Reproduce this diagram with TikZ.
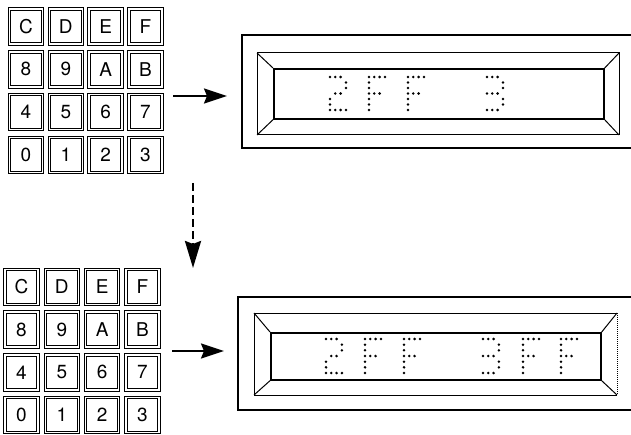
\documentclass[tikz,border=0pt]{standalone}
\usepackage{fontspec}
\setmainfont{TeX Gyre Heros}
\usetikzlibrary{arrows.meta}
\tikzset{
  key/.style={draw=black, double=white, double distance=1.6pt, line width=1pt,
    minimum width=33pt, minimum height=35pt, inner sep=0pt, anchor=north west,
    font=\fontsize{19}{19}\selectfont},
  frame/.style={draw=black, line width=1.3pt},
  bezel/.style={draw=black, line width=1pt},
  window/.style={draw=black, line width=1.7pt, inner sep=0pt, anchor=north west},
  arr/.style={line width=2.2pt, -{Stealth[length=23pt, width=15pt, inset=3pt]}},
  darr/.style={line width=2.6pt, dash pattern=on 8pt off 4pt, -{Stealth[length=27pt, width=16pt, inset=3pt]}},
  dotm/.style={fill=black}
}
\def\glyphTwo{0/0,1/0,2/0,3/1,3/2,1/3,2/3,0/4,0/5,0/6,1/6,2/6,3/6}
\def\glyphF{0/0,1/0,2/0,3/0,0/1,0/2,0/3,1/3,2/3,0/4,0/5,0/6}
\def\glyphThree{0/0,1/0,2/0,3/1,3/2,0/3,1/3,2/3,3/4,3/5,0/6,1/6,2/6}
\newcommand\dotglyph[4]{% x, y, glyph, row step
  \foreach \cc/\rr in #3 {\fill[dotm] ({#1+\cc*5.3},{#2+\rr*#4}) circle (1.4);}}
\begin{document}
\begin{tikzpicture}[x=1pt,y=-1pt]
\useasboundingbox (0,0) rectangle (631,435);
% ---------- top keypad ----------
\foreach \lab [count=\i from 0] in {C,D,E,F,8,9,A,B,4,5,6,7,0,1,2,3}{
  \pgfmathtruncatemacro\col{mod(\i,4)}
  \pgfmathtruncatemacro\row{div(\i,4)}
  \node[key] (ta\i) at ({9+39.8*\col},{8.5+42.8*\row}) {\lab};
}
% ---------- bottom keypad ----------
\foreach \lab [count=\i from 0] in {C,D,E,F,8,9,A,B,4,5,6,7,0,1,2,3}{
  \pgfmathtruncatemacro\col{mod(\i,4)}
  \pgfmathtruncatemacro\row{div(\i,4)}
  \node[key] (tb\i) at ({4.5+40.3*\col},{269+42.7*\row}) {\lab};
}
% ---------- top display ----------
\draw[frame] (631,35) -- (242,35) -- (242,148) -- (631,148);
\draw[bezel] (257,53) rectangle (619,135);
\node[window, minimum width=330pt, minimum height=50pt] (w1) at (273,68) {};
\draw[bezel] (257,53) -- (w1.north west) (619,53) -- (w1.north east)
  (257,135) -- (w1.south west) (619,135) -- (w1.south east);
\dotglyph{330}{77}{\glyphTwo}{5.5}
\dotglyph{369}{77}{\glyphF}{5.5}
\dotglyph{408}{77}{\glyphF}{5.5}
\dotglyph{487}{77}{\glyphThree}{5.5}
% ---------- bottom display ----------
\draw[frame] (631,297) -- (238,297) -- (238,410) -- (631,410);
\draw[bezel] (254,313) -- (617,313) (254,313) -- (254,395) -- (617,395);
\draw[bezel, densely dotted, line width=0.6pt] (617,313) -- (617,395);
\node[window, minimum width=330pt, minimum height=47pt] (w2) at (270,332) {};
\draw[bezel] (254,313) -- (w2.north west) (617,313) -- (w2.north east)
  (254,395) -- (w2.south west) (617,395) -- (w2.south east);
\dotglyph{326}{339}{\glyphTwo}{5.67}
\dotglyph{365}{339}{\glyphF}{5.67}
\dotglyph{404}{339}{\glyphF}{5.67}
\dotglyph{483}{339}{\glyphThree}{5.67}
\dotglyph{523}{339}{\glyphF}{5.67}
\dotglyph{561}{339}{\glyphF}{5.67}
% ---------- arrows ----------
\coordinate (a1s) at (173,96);
\coordinate (a1e) at (227,96);
\coordinate (a2s) at (172,351);
\coordinate (a2e) at (224,351);
\coordinate (a3s) at (193,183);
\coordinate (a3e) at (193,268);
\draw[arr] (a1s) -- (a1e);
\draw[arr] (a2s) -- (a2e);
\draw[darr] (a3s) -- (a3e);
\end{tikzpicture}
\end{document}
